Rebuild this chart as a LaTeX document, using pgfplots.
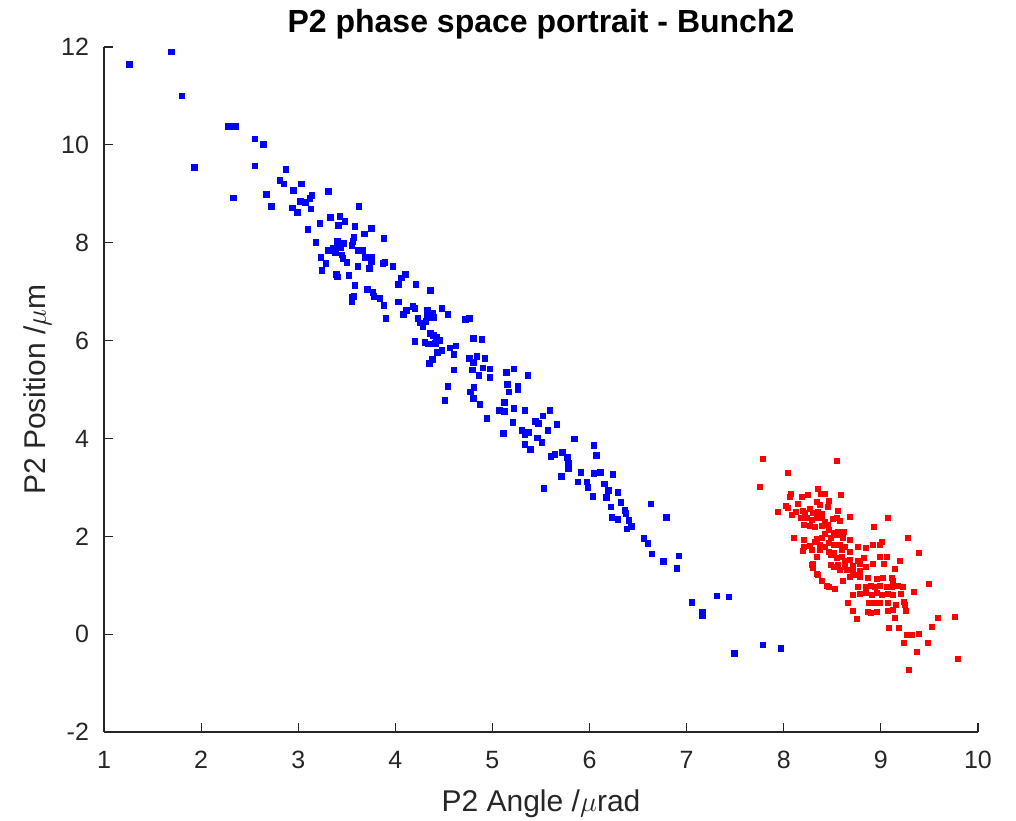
\documentclass[border=0pt]{standalone}
\usepackage{pgfplots}
\pgfplotsset{compat=1.18}
\usepackage{fontspec}
\setmainfont{Liberation Sans}
\definecolor{axgray}{HTML}{262626}
\begin{document}
\begin{tikzpicture}
\useasboundingbox (-52pt,-44pt) rectangle (456pt,366pt);
\begin{axis}[
  scale only axis,
  width=437pt, height=342.5pt,
  xmin=1, xmax=10, ymin=-2, ymax=12,
  xtick={1,2,...,10}, ytick={-2,0,2,...,12},
  axis lines*=left,
  axis line style={-, axgray, line width=0.6pt},
  tick align=inside,
  major tick length=4.5pt,
  tick style={axgray, line width=0.6pt},
  /pgf/number format/assume math mode=true,
  ticklabel style={font=\fontsize{12.5}{15}\selectfont, text=axgray},
  xticklabel style={yshift=-6pt},
  yticklabel style={xshift=-4pt},
  title={\bfseries P2 phase space portrait - Bunch2},
  title style={font=\fontsize{16}{18}\selectfont, yshift=-5.5pt},
  xlabel={P2 Angle /$\mu$rad},
  ylabel={P2 Position /$\mu$m},
  label style={font=\fontsize{15}{18}\selectfont, text=axgray},
  xlabel style={yshift=-3.5pt},
  ylabel style={yshift=-2pt},
  clip=false,
]
\addplot[only marks, mark=square*, mark size=1.35pt, mark options={fill=blue, draw=blue, line width=0.2pt}] coordinates {
(1.26,11.65) (1.69,11.90) (1.80,11.00) (2.28,10.38) (2.35,10.38) (2.55,10.12) (2.64,10.01)
(1.93,9.54) (2.55,9.58) (2.87,9.50) (2.81,9.28) (2.85,9.20) (3.03,9.20) (2.95,9.07)
(2.67,8.99) (3.31,9.05) (2.33,8.92) (2.72,8.75) (3.02,8.85) (3.07,8.83) (3.12,8.91)
(3.14,8.97) (2.94,8.71) (2.99,8.62) (3.13,8.69) (3.22,8.40) (3.33,8.52) (3.43,8.54)
(3.48,8.44) (3.41,8.36) (3.10,8.28) (3.62,8.75) (3.58,8.34) (3.75,8.30) (3.68,8.18)
(3.88,8.09) (3.18,8.01) (3.40,8.03) (3.47,7.99) (3.57,8.11) (3.56,8.03) (3.55,7.95)
(3.31,7.85) (3.36,7.89) (3.40,7.91) (3.44,7.91) (3.38,7.79) (3.61,7.85) (3.66,7.85)
(3.69,7.70) (3.75,7.70) (3.75,7.62) (3.45,7.75) (3.46,7.68) (3.50,7.60) (3.23,7.70)
(3.28,7.58) (3.24,7.44) (3.39,7.36) (3.40,7.30) (3.52,7.34) (3.61,7.52) (3.73,7.48)
(3.87,7.58) (3.89,7.60) (3.97,7.52) (4.10,7.36) (4.06,7.28) (4.03,7.15) (3.58,7.13)
(3.71,7.05) (3.77,6.99) (3.78,6.91) (3.55,6.89) (3.57,6.91) (3.55,6.79) (3.84,6.87)
(3.88,6.72) (4.21,7.15) (4.36,7.03) (4.03,6.79) (4.18,6.70) (4.20,6.66) (4.11,6.62)
(4.08,6.54) (3.90,6.46) (4.33,6.62) (4.38,6.56) (4.39,6.48) (4.33,6.48) (4.48,6.66)
(4.54,6.54) (4.72,6.44) (4.76,6.46) (4.23,6.46) (4.25,6.36) (4.28,6.29) (4.31,6.40)
(4.36,6.15) (4.39,6.11) (4.42,6.07) (4.45,6.01) (4.20,5.99) (4.30,5.97) (4.34,5.93)
(4.41,5.95) (4.62,5.89) (4.56,5.85) (4.80,6.05) (4.89,6.03) (4.48,5.80) (4.43,5.76)
(4.60,5.72) (4.38,5.62) (4.35,5.54) (4.76,5.64) (4.80,5.56) (4.84,5.68) (4.92,5.64)
(4.60,5.40) (4.79,5.40) (4.86,5.29) (4.90,5.44) (4.97,5.42) (4.97,5.25) (5.14,5.35)
(5.22,5.42) (5.36,5.29) (4.54,5.07) (4.51,4.78) (4.77,4.95) (4.81,5.05) (4.80,4.82)
(4.87,4.70) (4.94,4.41) (5.15,5.11) (5.17,4.95) (5.26,5.07) (5.26,5.01) (5.12,4.74)
(5.07,4.58) (5.12,4.56) (5.22,4.62) (5.33,4.58) (5.59,4.58) (5.52,4.46) (5.21,4.33)
(5.44,4.35) (5.47,4.31) (5.66,4.29) (5.11,4.11) (5.30,4.17) (5.33,4.09) (5.37,4.13)
(5.57,4.17) (5.46,4.01) (5.51,3.92) (5.33,3.88) (5.39,3.78) (5.84,3.99) (6.04,3.86)
(5.60,3.64) (5.64,3.68) (5.72,3.72) (5.77,3.62) (5.78,3.49) (5.78,3.39) (5.91,3.31)
(6.04,3.29) (6.11,3.31) (6.24,3.27) (5.71,3.23) (6.07,3.66) (5.53,2.98) (5.88,3.11)
(5.97,3.11) (5.98,3.00) (6.15,3.07) (6.19,2.94) (6.17,2.80) (6.29,2.90) (6.03,2.82)
(6.22,2.60) (6.32,2.70) (6.36,2.53) (6.37,2.47) (6.23,2.39) (6.29,2.35) (6.40,2.33)
(6.43,2.21) (6.38,2.15) (6.63,2.66) (6.79,2.39) (6.56,1.96) (6.60,1.86) (6.64,1.64)
(6.76,1.49) (6.92,1.60) (6.90,1.35) (7.05,0.65) (7.16,0.45) (7.16,0.39) (7.31,0.78)
(7.43,0.76) (7.49,-0.39) (7.78,-0.21) (7.97,-0.29)
};
\addplot[only marks, mark=square*, mark size=1.25pt, mark options={fill=red, draw=red, line width=0.2pt}] coordinates {
(7.78,3.58) (8.55,3.54) (8.04,3.29) (7.75,3.02) (8.07,2.88) (8.06,2.80) (8.18,2.80)
(8.25,2.86) (8.35,2.98) (8.38,2.88) (8.42,2.88) (8.46,2.72) (8.59,2.84) (8.14,2.66)
(8.34,2.70) (8.37,2.64) (7.94,2.51) (8.04,2.59) (8.08,2.45) (8.19,2.53) (8.22,2.49)
(8.27,2.57) (8.30,2.49) (8.35,2.51) (8.39,2.47) (8.17,2.37) (8.24,2.39) (8.29,2.33)
(8.34,2.39) (8.39,2.37) (8.42,2.29) (8.56,2.53) (8.55,2.37) (8.58,2.31) (8.68,2.41)
(9.07,2.37) (8.21,2.23) (8.27,2.21) (8.32,2.19) (8.39,2.21) (8.45,2.23) (8.46,2.13)
(8.51,2.07) (8.56,2.09) (8.62,2.09) (8.93,2.19) (8.10,1.98) (8.21,1.94) (8.34,1.96)
(8.39,1.98) (8.42,2.05) (8.48,1.98) (8.55,2.03) (8.61,1.98) (8.68,1.94) (9.28,1.98)
(9.01,1.88) (8.99,1.82) (8.92,1.82) (8.20,1.78) (8.27,1.80) (8.32,1.88) (8.37,1.82)
(8.42,1.78) (8.46,1.86) (8.51,1.82) (8.58,1.82) (8.63,1.78) (8.19,1.70) (8.29,1.72)
(8.37,1.72) (8.46,1.68) (8.51,1.66) (8.60,1.72) (8.68,1.68) (8.76,1.78) (8.84,1.76)
(8.34,1.58) (8.48,1.62) (8.55,1.56) (8.60,1.58) (8.63,1.51) (8.68,1.53) (8.76,1.51)
(8.82,1.56) (8.99,1.58) (9.06,1.58) (9.19,1.51) (9.39,1.66) (8.30,1.45) (8.30,1.35)
(8.48,1.41) (8.51,1.37) (8.56,1.41) (8.63,1.37) (8.71,1.39) (8.78,1.43) (8.84,1.37)
(8.92,1.45) (8.58,1.31) (8.65,1.31) (8.71,1.27) (8.78,1.29) (9.03,1.45) (9.14,1.33)
(8.34,1.23) (8.39,1.10) (8.61,1.10) (8.68,1.17) (8.73,1.21) (8.78,1.17) (8.86,1.15)
(8.96,1.13) (9.02,1.15) (9.11,1.15) (9.12,1.10) (8.46,0.96) (8.52,0.92) (8.76,0.96)
(8.84,0.96) (8.89,0.98) (8.94,0.96) (8.99,0.98) (9.06,0.96) (9.11,0.96) (9.17,1.00)
(9.22,0.96) (9.49,1.04) (8.71,0.80) (8.78,0.82) (8.84,0.84) (8.91,0.80) (8.96,0.84)
(9.01,0.80) (9.07,0.82) (9.12,0.80) (9.20,0.82) (9.34,0.86) (8.66,0.64) (8.87,0.64)
(8.94,0.64) (8.99,0.64) (9.07,0.64) (9.15,0.61) (9.23,0.66) (9.25,0.61) (8.71,0.47)
(8.86,0.45) (8.89,0.43) (8.96,0.45) (9.07,0.47) (9.12,0.49) (9.26,0.47) (8.75,0.31)
(9.14,0.33) (9.58,0.33) (9.76,0.35) (9.08,0.14) (9.18,0.14) (9.52,0.16) (9.27,-0.02)
(9.32,-0.02) (9.39,0.00) (9.24,-0.18) (9.48,-0.18) (9.37,-0.35) (9.79,-0.51) (9.29,-0.72)
(8.29,1.41) (8.35,1.21) (8.44,0.98) (8.02,2.62) (8.12,2.50) (8.45,2.60) (8.50,2.35)
};
\end{axis}
\end{tikzpicture}
\end{document}
